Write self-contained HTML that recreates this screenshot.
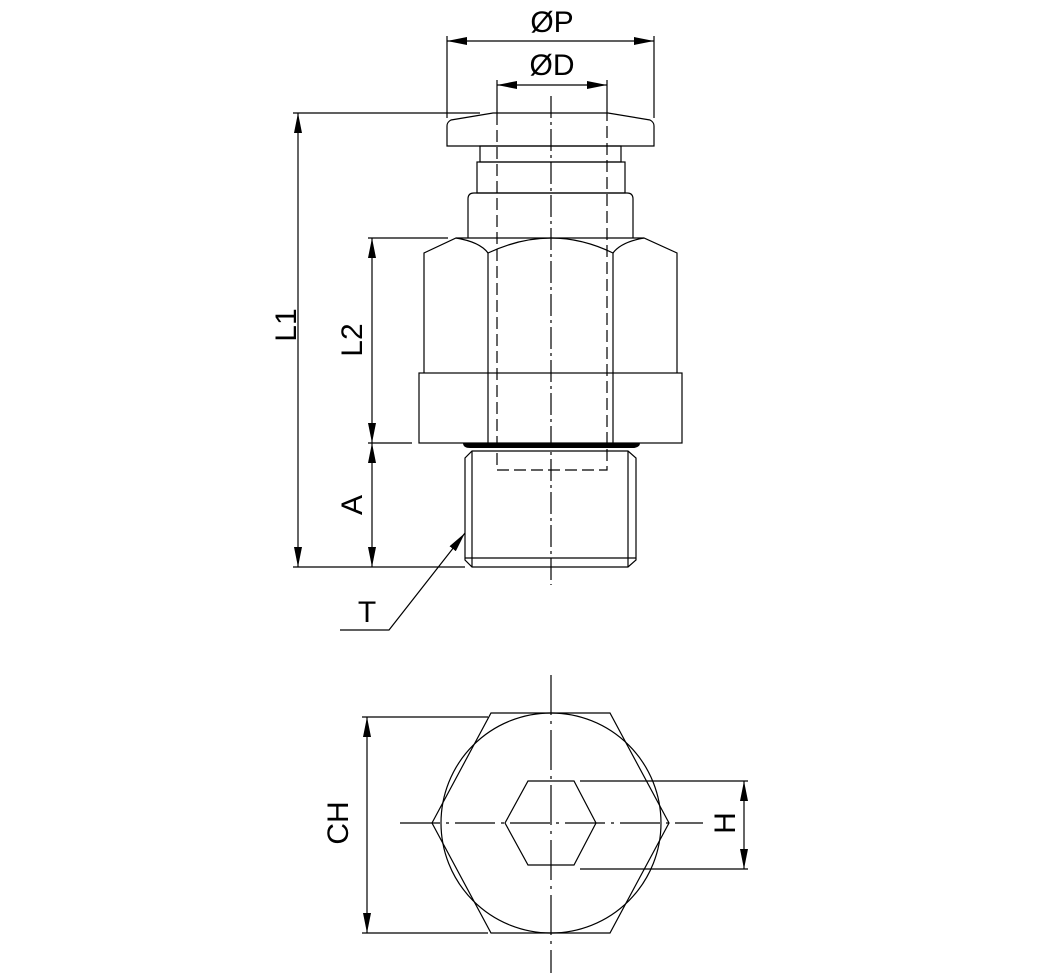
<!DOCTYPE html>
<html><head><style>html,body{margin:0;padding:0;background:#fff}svg{display:block}</style></head><body>
<svg width="1041" height="975" viewBox="0 0 1041 975" xmlns="http://www.w3.org/2000/svg">
<defs>
<marker id="a" viewBox="0 0 20 8" refX="20" refY="4" markerWidth="20" markerHeight="8" markerUnits="userSpaceOnUse" orient="auto-start-reverse"><path d="M0,0 L20,4 L0,8z" fill="#000"/></marker>
</defs>
<g fill="none" stroke="#000" stroke-width="1.2">
<!-- dimensions top -->
<line x1="447" y1="36" x2="447" y2="118"/><line x1="654" y1="36" x2="654" y2="118"/>
<line x1="447" y1="41" x2="654" y2="41" marker-start="url(#a)" marker-end="url(#a)"/>
<line x1="497" y1="80" x2="497" y2="113"/><line x1="607" y1="80" x2="607" y2="113"/>
<line x1="497" y1="85" x2="607" y2="85" marker-start="url(#a)" marker-end="url(#a)"/>
<!-- cap -->
<path d="M493,113 L608,113 L650,120 Q654,122 654,126 L654,146 L447,146 L447,126 Q447,122 451,120 Z"/>
<rect x="480" y="146" width="141" height="16"/>
<rect x="477" y="162" width="148" height="31"/>
<path d="M468,238 L468,199 Q468,193 474,193 L627,193 Q633,193 633,199 L633,238"/>
<!-- hex body -->
<path d="M424,373 L424,253 L456,238 L644,238 L677,253 L677,373"/>
<path d="M456,238 Q480,242 488,253 Q520,238 551,238 Q582,238 613,253 Q621,242 644,238"/>
<line x1="488" y1="253" x2="488" y2="443"/><line x1="613" y1="253" x2="613" y2="443"/>
<rect x="419" y="373" width="263" height="70"/>
<!-- thread -->
<path d="M472,451 L628,451 L636,458 L636,560 L628,567 L472,567 L465,560 L465,458 Z"/>
<line x1="472" y1="451" x2="472" y2="567"/><line x1="628" y1="451" x2="628" y2="567"/>
<line x1="465" y1="558" x2="636" y2="558"/>
<!-- dashed -->
<path d="M497,113 L497,470 L607,470 L607,113" stroke-dasharray="12,5"/>
<line x1="551" y1="96" x2="551" y2="585" stroke-dasharray="22,4,3,4"/>
<!-- L dims -->
<line x1="293" y1="113" x2="480" y2="113"/>
<line x1="298" y1="113" x2="298" y2="567" marker-start="url(#a)" marker-end="url(#a)"/>
<line x1="293" y1="567" x2="465" y2="567"/>
<line x1="368" y1="238" x2="448" y2="238"/>
<line x1="372" y1="238" x2="372" y2="443" marker-start="url(#a)" marker-end="url(#a)"/>
<line x1="372" y1="443" x2="372" y2="567" marker-start="url(#a)" marker-end="url(#a)"/>
<line x1="368" y1="443" x2="412" y2="443"/>
<polyline points="340,630 389,630 465,533" marker-end="url(#a)"/>
<!-- bottom view -->
<line x1="551" y1="675" x2="551" y2="973" stroke-dasharray="40,6,3,6"/>
<line x1="400" y1="823" x2="703" y2="823" stroke-dasharray="40,6,3,6"/>
<polygon points="491,713 610,713 669,823 610,933 491,933 432,823"/>
<circle cx="551" cy="823" r="110"/>
<polygon points="528,781 574,781 596,823 574,865 528,865 505,823"/>
<line x1="580" y1="781" x2="748" y2="781"/><line x1="580" y1="869" x2="748" y2="869"/>
<line x1="744" y1="781" x2="744" y2="869" marker-start="url(#a)" marker-end="url(#a)"/>
<line x1="362" y1="717" x2="488" y2="717"/><line x1="362" y1="933" x2="488" y2="933"/>
<line x1="367" y1="717" x2="367" y2="933" marker-start="url(#a)" marker-end="url(#a)"/>
</g>
<path d="M463,443 L640,443 Q640,448 632,448 L470,448 Q463,448 463,443 Z" fill="#000"/>
<g font-family="Liberation Sans, sans-serif" font-size="30" fill="#000" text-anchor="middle">
<text x="552" y="32">ØP</text>
<text x="552" y="75">ØD</text>
<text x="367" y="622">T</text>
<text transform="translate(296,325) rotate(-90)">L1</text>
<text transform="translate(362,340) rotate(-90)">L2</text>
<text transform="translate(362,505) rotate(-90)">A</text>
<text transform="translate(348,823) rotate(-90)">CH</text>
<text transform="translate(735,823) rotate(-90)">H</text>
</g>
</svg>
</body></html>
